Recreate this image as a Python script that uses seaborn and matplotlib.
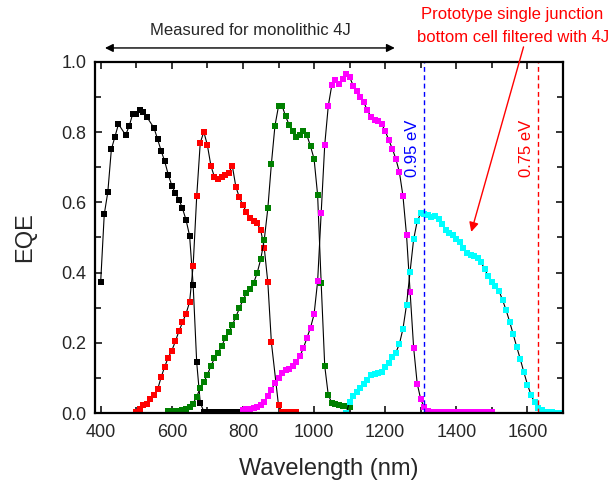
import matplotlib
matplotlib.use("Agg")
import matplotlib.pyplot as plt
import seaborn as sns
import pandas as pd
from matplotlib.ticker import MultipleLocator, FormatStrFormatter

# EQE spectra (wavelength in nm, EQE as fraction)
black_nm = [400, 410, 420, 430, 440, 450, 470, 480, 490, 500, 510, 520, 530, 550,
            560, 570, 580, 590, 600, 610, 620, 630, 640, 650, 660, 670, 680, 690,
            700, 710, 720, 730, 740, 750, 760, 770, 780, 790, 800]
black_eqe = [0.374, 0.566, 0.629, 0.751, 0.787, 0.823, 0.792, 0.817, 0.852, 0.853,
             0.863, 0.858, 0.843, 0.812, 0.780, 0.747, 0.717, 0.679, 0.648, 0.626,
             0.608, 0.583, 0.550, 0.505, 0.365, 0.144, 0.029, 0.004,
             0.003, 0.003, 0.002, 0.002, 0.002, 0.002, 0.002, 0.002, 0.002, 0.002, 0.002]

red_nm = [500, 510, 520, 530, 540, 550, 560, 570, 580, 590, 600, 610, 620, 630, 640,
          650, 660, 670, 680, 690, 700, 710, 720, 730, 740, 750, 760, 770, 780, 790,
          800, 810, 820, 830, 840, 850, 860, 870, 880, 900, 910, 920, 930, 940, 950]
red_eqe = [0.003, 0.012, 0.023, 0.027, 0.039, 0.052, 0.067, 0.102, 0.132, 0.158,
           0.178, 0.204, 0.233, 0.258, 0.283, 0.316, 0.420, 0.617, 0.770, 0.801,
           0.763, 0.704, 0.672, 0.666, 0.673, 0.677, 0.683, 0.705, 0.645, 0.614,
           0.592, 0.572, 0.555, 0.548, 0.540, 0.521, 0.470, 0.372, 0.201, 0.022,
           0.003, 0.002, 0.002, 0.002, 0.002]

green_nm = [590, 600, 610, 620, 630, 640, 650, 660, 670, 680, 690, 700, 710, 720, 730,
            740, 750, 760, 770, 780, 790, 800, 810, 820, 830, 840, 850, 860, 870, 880,
            890, 900, 910, 920, 930, 940, 950, 960, 970, 980, 990, 1000, 1010, 1020,
            1030, 1040, 1050, 1060, 1070, 1080, 1090, 1100]
green_eqe = [0.005, 0.005, 0.006, 0.007, 0.009, 0.012, 0.018, 0.027, 0.047, 0.071,
             0.088, 0.109, 0.134, 0.156, 0.172, 0.190, 0.213, 0.230, 0.250, 0.274,
             0.298, 0.322, 0.341, 0.352, 0.370, 0.399, 0.438, 0.494, 0.583, 0.710,
             0.818, 0.874, 0.876, 0.845, 0.821, 0.804, 0.786, 0.793, 0.803, 0.791,
             0.760, 0.724, 0.621, 0.370, 0.134, 0.051, 0.029, 0.025, 0.023, 0.021,
             0.019, 0.017]

magenta_nm = [800, 810, 820, 830, 840, 850, 860, 870, 880, 890, 900, 910, 920, 930,
              940, 950, 960, 970, 980, 990, 1000, 1010, 1020, 1030, 1040, 1050, 1060,
              1070, 1080, 1090, 1100, 1110, 1120, 1130, 1140, 1150, 1160, 1170, 1180,
              1190, 1200, 1210, 1220, 1230, 1240, 1250, 1260, 1270, 1280, 1290, 1300,
              1310, 1320, 1330, 1340, 1350, 1360, 1370, 1380, 1390, 1400, 1410, 1420,
              1430, 1440, 1450, 1460, 1470, 1480, 1490, 1500]
magenta_eqe = [0.009, 0.010, 0.011, 0.014, 0.018, 0.024, 0.032, 0.048, 0.066, 0.085,
               0.101, 0.113, 0.122, 0.126, 0.135, 0.146, 0.162, 0.185, 0.214, 0.243,
               0.281, 0.375, 0.570, 0.764, 0.875, 0.935, 0.948, 0.937, 0.952, 0.967,
               0.957, 0.933, 0.916, 0.901, 0.885, 0.862, 0.844, 0.835, 0.832, 0.823,
               0.804, 0.778, 0.753, 0.724, 0.686, 0.618, 0.507, 0.346, 0.186, 0.084,
               0.039, 0.016, 0.006, 0.004, 0.004, 0.003, 0.003, 0.003, 0.003, 0.003,
               0.003, 0.003, 0.003, 0.003, 0.003, 0.003, 0.003, 0.003, 0.003, 0.003,
               0.003]

cyan_nm = [1090, 1100, 1110, 1120, 1130, 1140, 1150, 1160, 1170, 1180, 1190, 1200,
           1210, 1220, 1230, 1240, 1250, 1260, 1270, 1280, 1290, 1300, 1310, 1320,
           1330, 1340, 1350, 1360, 1370, 1380, 1390, 1400, 1410, 1420, 1430, 1440,
           1450, 1460, 1470, 1480, 1490, 1500, 1510, 1520, 1530, 1540, 1550, 1560,
           1570, 1580, 1590, 1600, 1610, 1620, 1630, 1640, 1650, 1660, 1670, 1680,
           1690, 1700]
cyan_eqe = [0.000, 0.031, 0.049, 0.061, 0.070, 0.082, 0.093, 0.107, 0.112, 0.114,
            0.117, 0.130, 0.143, 0.159, 0.172, 0.197, 0.240, 0.308, 0.403, 0.495,
            0.546, 0.569, 0.568, 0.563, 0.559, 0.561, 0.553, 0.538, 0.521, 0.512,
            0.507, 0.497, 0.487, 0.469, 0.455, 0.451, 0.448, 0.442, 0.429, 0.409,
            0.390, 0.374, 0.362, 0.348, 0.322, 0.293, 0.260, 0.224, 0.188, 0.153,
            0.116, 0.081, 0.052, 0.030, 0.015, 0.008, 0.004, 0.003, 0.002, 0.001,
            0.001, 0.000]

series = [
    (black_nm, black_eqe, "#000000"),
    (red_nm, red_eqe, "#ff0000"),
    (green_nm, green_eqe, "#008000"),
    (magenta_nm, magenta_eqe, "#ff00ff"),
    (cyan_nm, cyan_eqe, "#00ffff"),
]

# Band-gap cut-offs
gap_095_nm = 1309
gap_075_nm = 1630

sns.set_theme(style="ticks")
plt.rcParams["font.family"] = ["Liberation Sans", "DejaVu Sans"]

fig = plt.figure(figsize=(6.13, 4.8), dpi=100)
ax = fig.add_axes([95 / 613, 67 / 480, 468 / 613, 351 / 480])

for nm, eqe, col in series:
    df = pd.DataFrame({"Wavelength": nm, "EQE": eqe})
    sns.lineplot(data=df, x="Wavelength", y="EQE", ax=ax, color="black",
                 linewidth=0.8, marker="s", markersize=3.7,
                 markerfacecolor=col, markeredgecolor=col, markeredgewidth=0,
                 estimator=None, sort=False)

ax.axvline(gap_095_nm, color="blue", ls=(0, (3.5, 2.5)), lw=1.0)
ax.axvline(gap_075_nm, color="red", ls=(0, (3.5, 2.5)), lw=1.0)
ax.text(gap_095_nm - 31, 0.755, "0.95 eV", rotation=90, color="blue",
        ha="center", va="center", fontsize=12)
ax.text(gap_075_nm - 32, 0.755, "0.75 eV", rotation=90, color="red",
        ha="center", va="center", fontsize=12)

ax.set_xlim(384, 1700)
ax.set_ylim(0, 1.0)
ax.xaxis.set_major_locator(MultipleLocator(200))
ax.xaxis.set_minor_locator(MultipleLocator(100))
ax.yaxis.set_major_locator(MultipleLocator(0.2))
ax.yaxis.set_minor_locator(MultipleLocator(0.1))
ax.yaxis.set_major_formatter(FormatStrFormatter("%.1f"))
ax.tick_params(which="both", direction="in", top=True, right=True,
               width=1.3, labelsize=13)
ax.tick_params(axis="x", which="both", pad=8)
ax.tick_params(axis="y", which="both", pad=6)
ax.tick_params(which="major", length=5)
ax.tick_params(which="minor", length=4)
for s in ax.spines.values():
    s.set_linewidth(1.6)
    s.set_color("black")

ax.set_xlabel("Wavelength (nm)", fontsize=17, labelpad=12)
ax.set_ylabel("EQE", fontsize=17, labelpad=18)

# Range measured on the monolithic four-junction device
ax.annotate("", xy=(412, 1.04), xytext=(1227, 1.04), xycoords="data",
            arrowprops=dict(arrowstyle="<|-|>", color="black", lw=1.0,
                            mutation_scale=12, shrinkA=0, shrinkB=0),
            annotation_clip=False)
ax.text(820, 1.091, "Measured for monolithic 4J", ha="center", va="center",
        fontsize=12, clip_on=False)

fig.text(512 / 613, 1 - 15 / 480, "Prototype single junction", color="red",
         ha="center", va="center", fontsize=12)
fig.text(513 / 613, 1 - 37 / 480, "bottom cell filtered with 4J", color="red",
         ha="center", va="center", fontsize=12)
ax.annotate("", xy=(1442, 0.516), xytext=(1589, 1.043), xycoords="data",
            arrowprops=dict(arrowstyle="-|>", color="red", lw=1.0,
                            mutation_scale=14, shrinkA=0, shrinkB=0),
            annotation_clip=False)

fig.savefig("out.png", dpi=100)
